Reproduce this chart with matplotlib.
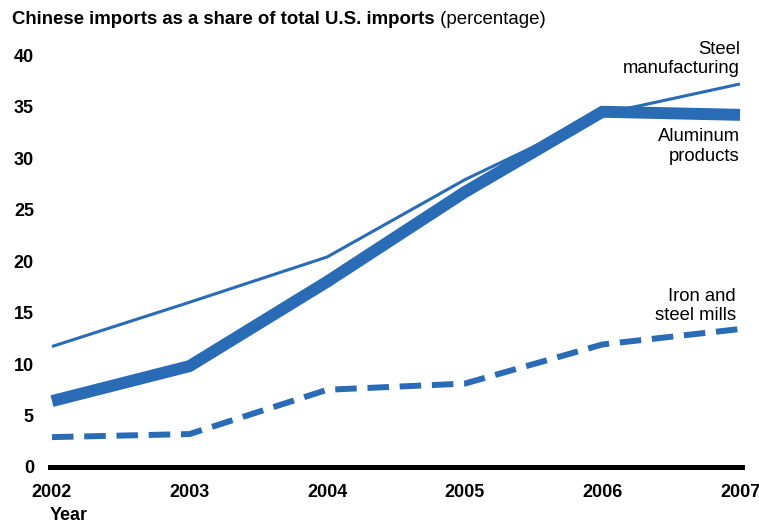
import matplotlib
matplotlib.use("Agg")
import matplotlib.pyplot as plt

plt.rcParams['font.family'] = ['Liberation Sans', 'DejaVu Sans']

years = [2002, 2003, 2004, 2005, 2006, 2007]
steel_manufacturing = [11.7, 16.0, 20.4, 27.9, 34.3, 37.2]
aluminum_products = [6.4, 9.8, 18.0, 26.7, 34.5, 34.2]
iron_steel_mills = [2.9, 3.2, 7.5, 8.1, 11.9, 13.4]
y_ticks = [0, 5, 10, 15, 20, 25, 30, 35, 40]

blue = '#2a6bb6'

fig = plt.figure(figsize=(7.59, 5.25), dpi=100)
ax = fig.add_axes([0.0685, 0.1105, 0.9065, 0.7845])

ax.plot(years, steel_manufacturing, color=blue, lw=2.2, solid_capstyle='butt', clip_on=False)
ax.plot(years, aluminum_products, color=blue, lw=8.6, solid_capstyle='butt',
        solid_joinstyle='miter', clip_on=False)
ax.plot(years, iron_steel_mills, color=blue, lw=4.3, dashes=(3.6, 1.8),
        dash_capstyle='butt', clip_on=False)

ax.set_xlim(2002, 2007)
ax.set_ylim(0, 40)
ax.set_xticks(years)
ax.set_yticks(y_ticks)
ax.tick_params(length=0, labelsize=13)
ax.tick_params(axis='y', pad=13)
ax.tick_params(axis='x', pad=12)
for lab in ax.get_xticklabels() + ax.get_yticklabels():
    lab.set_fontweight('bold')
for s in ['top', 'right', 'left']:
    ax.spines[s].set_visible(False)
ax.spines['bottom'].set_linewidth(3.6)
ax.spines['bottom'].set_bounds(2001.985, 2007.015)

# series labels
ax.text(2007, 41.4, 'Steel\nmanufacturing', ha='right', va='top', fontsize=13.3)
ax.text(2007, 32.9, 'Aluminum\nproducts', ha='right', va='top', fontsize=13.3)
ax.text(2006.97, 17.4, 'Iron and\nsteel mills', ha='right', va='top', fontsize=13.3)

# title
t1 = fig.text(12 / 759, 1 - 20 / 525, 'Chinese imports as a share of total U.S. imports',
              ha='left', va='center', fontsize=13.4, fontweight='bold')
fig.canvas.draw()
ax.annotate(' (percentage)', xy=(1, 0.5), xycoords=t1, ha='left', va='center', fontsize=13.4)

fig.text(50 / 759, 1 - 515 / 525, 'Year', ha='left', va='center', fontsize=13, fontweight='bold')

fig.savefig('out.png', dpi=100)
